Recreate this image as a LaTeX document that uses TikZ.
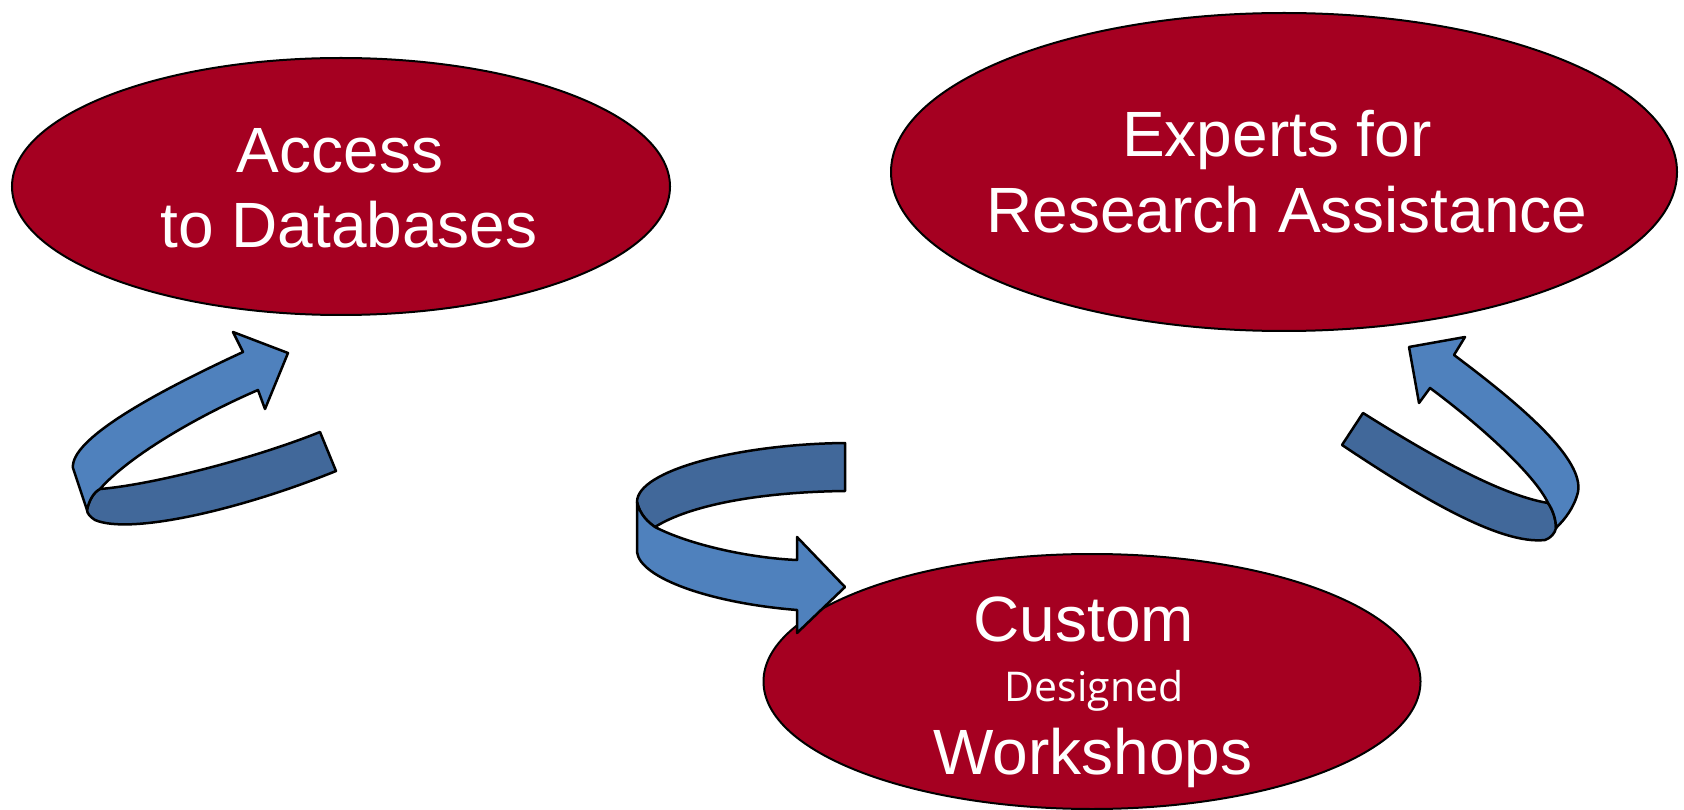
\documentclass[tikz,border=0pt]{standalone}
\usepackage{fontspec}
\setmainfont{Liberation Sans}
\newfontfamily\humanistfont{Open Sans}
\usetikzlibrary{shapes.geometric}
\definecolor{ovalred}{HTML}{A50021}
\definecolor{ribbonlight}{HTML}{4F81BD}
\definecolor{ribbondark}{HTML}{41689A}
\begin{document}
\begin{tikzpicture}[x=1pt,y=-1pt,
  oval/.style={ellipse, draw=black, line width=2pt, fill=ovalred, inner sep=0pt},
  bigtext/.style={text=white, font=\fontsize{64}{76}\selectfont, inner sep=0pt, anchor=base},
  smalltext/.style={text=white, font=\humanistfont\fontsize{41}{50}\selectfont, inner sep=0pt, anchor=base},
  light/.style={fill=ribbonlight, draw=black, line width=2.5pt, line join=round},
  dark/.style={fill=ribbondark, draw=black, line width=2.5pt, line join=round}]
\useasboundingbox (0,0) rectangle (1684,810);

% ovals
\node[oval, minimum width=658pt, minimum height=257pt] (access) at (341,186.5) {};
\node[oval, minimum width=786pt, minimum height=318pt] (experts) at (1284,172) {};
\node[oval, minimum width=657pt, minimum height=255pt] (custom) at (1092,681.5) {};

% texts
\node[bigtext] (t1) at (340,173) {Access};
\node[bigtext] (t2) at (349,248) {to Databases};
\node[bigtext] (t3) at (1277,157) {Experts for};
\node[bigtext] (t4) at (1287,233) {Research Assistance};
\node[bigtext] (t5) at (1084,641) {Custom};
\node[smalltext] (t6) at (1094,701) {Designed};
\node[bigtext] (t7) at (1093,774) {Workshops};

% left ribbon arrow (towards Access)
\path[dark] (100,489) .. controls (150,485) and (250,460) .. (320,432)
  -- (336,471)
  .. controls (240,510) and (130,535) .. (95,520)
  .. controls (90,517) and (87,513) .. (87,510)
  .. controls (89,500) and (94,492) .. cycle;
\path[light] (243,352) .. controls (150,395) and (70,440) .. (73,468)
  -- (87,510)
  .. controls (89,500) and (94,492) .. (100,489)
  .. controls (130,455) and (200,415) .. (258,390)
  -- (265,409) -- (288,353) -- (233,332) -- cycle;

% middle ribbon arrow (towards Custom)
\path[dark] (845,443) .. controls (740,444) and (637,470) .. (637,502)
  .. controls (640,515) and (648,522) .. (655,527)
  .. controls (690,505) and (760,492) .. (845,491) -- cycle;
\path[light] (637,502)
  .. controls (640,515) and (648,522) .. (655,527)
  .. controls (690,545) and (750,558) .. (797,560)
  -- (797,537) -- (845,587) -- (797,633) -- (797,610)
  .. controls (710,603) and (640,578) .. (637,552) -- cycle;

% right ribbon arrow (towards Experts)
\path[dark] (1548,503) .. controls (1500,495) and (1430,455) .. (1363,413)
  -- (1342,445)
  .. controls (1420,497) and (1500,545) .. (1545,540)
  .. controls (1551,538) and (1555,533) .. (1556,528)
  .. controls (1556,520) and (1553,510) .. cycle;
\path[light] (1454,355) .. controls (1525,408) and (1584,460) .. (1578,492)
  .. controls (1574,508) and (1565,519) .. (1556,528)
  .. controls (1556,520) and (1553,510) .. (1548,503)
  .. controls (1535,475) and (1480,425) .. (1430,388)
  -- (1419,403) -- (1409,347) -- (1465,337) -- cycle;
\end{tikzpicture}
\end{document}
